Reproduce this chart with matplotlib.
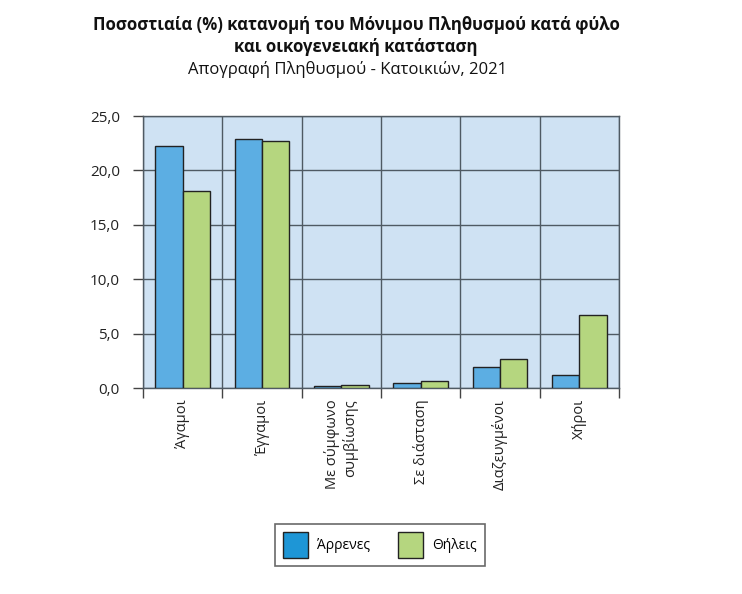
import matplotlib
matplotlib.use("Agg")
import matplotlib.pyplot as plt
import numpy as np
from matplotlib.patches import Patch

plt.rcParams['font.family'] = ['Open Sans', 'DejaVu Sans']

categories = ["Άγαμοι", "Έγγαμοι", "Με σύμφωνο\nσυμβίωσης", "Σε διάσταση", "Διαζευγμένοι", "Χήροι"]
male = [22.2, 22.9, 0.2, 0.45, 1.9, 1.2]
female = [18.1, 22.7, 0.25, 0.6, 2.7, 6.7]
series_names = ["Άρρενες", "Θήλεις"]
yticks = [0, 5, 10, 15, 20, 25]

fig = plt.figure(figsize=(7.42, 5.94), dpi=100)
ax = fig.add_axes([143/742, 1-388/594, (619-143)/742, (388-116)/594])
ax.set_facecolor("#cfe2f3")

x = np.arange(len(categories))
w = 0.345
ax.bar(x - w/2, male, w, color="#5caee3", edgecolor="#222222", linewidth=1.0, zorder=3)
ax.bar(x + w/2, female, w, color="#b5d67f", edgecolor="#222222", linewidth=1.0, zorder=3)

ax.set_xlim(-0.5, len(categories) - 0.5)
ax.set_ylim(0, 25)
ax.set_yticks(yticks)
ax.set_yticklabels([f"{v:.1f}".replace(".", ",") for v in yticks], fontsize=11, color="#222222")
ax.set_xticks(x)
ax.set_xticklabels(categories, rotation=90, fontsize=10.5, va="top", ha="center",
                   multialignment="right", color="#222222")
ax.set_xticks(np.arange(-0.5, len(categories), 1.0), minor=True)
ax.tick_params(axis="x", which="major", length=0, pad=8)
ax.tick_params(axis="x", which="minor", length=7, width=1.0, color="#444444")
ax.tick_params(axis="y", length=7.2, width=1.0, color="#444444", pad=9.5)

ax.grid(axis="y", which="major", color="#4f5a63", linewidth=1.0, zorder=1)
ax.grid(axis="x", which="minor", color="#4f5a63", linewidth=1.0, zorder=1)
ax.set_axisbelow(True)
for s in ax.spines.values():
    s.set_color("#4f5a63")
    s.set_linewidth(1.0)

fig.text(356/742, 1-25/594, "Ποσοστιαία (%) κατανομή του Μόνιμου Πληθυσμού κατά φύλο",
         ha="center", va="center", fontsize=12.1, fontweight="bold", color="#111111")
fig.text(356/742, 1-47/594, "και οικογενειακή κατάσταση",
         ha="center", va="center", fontsize=12.1, fontweight="bold", color="#111111")
fig.text(348/742, 1-70/594, "Απογραφή Πληθυσμού - Κατοικιών, 2021",
         ha="center", va="center", fontsize=12, color="#111111")

handles = [Patch(facecolor="#1e96d6", edgecolor="#222222", linewidth=1.0),
           Patch(facecolor="#b5d67f", edgecolor="#222222", linewidth=1.0)]
leg = fig.legend(handles, series_names, loc="center", bbox_to_anchor=(380/742, 1-545/594),
                 ncol=2, fontsize=10, frameon=True, fancybox=False, edgecolor="#444444",
                 handlelength=1.8, handleheight=2.45, handletextpad=0.65, columnspacing=2.0,
                 borderpad=0.6)
leg.get_frame().set_linewidth(1.2)

fig.savefig("out.png", dpi=100, facecolor="white")
